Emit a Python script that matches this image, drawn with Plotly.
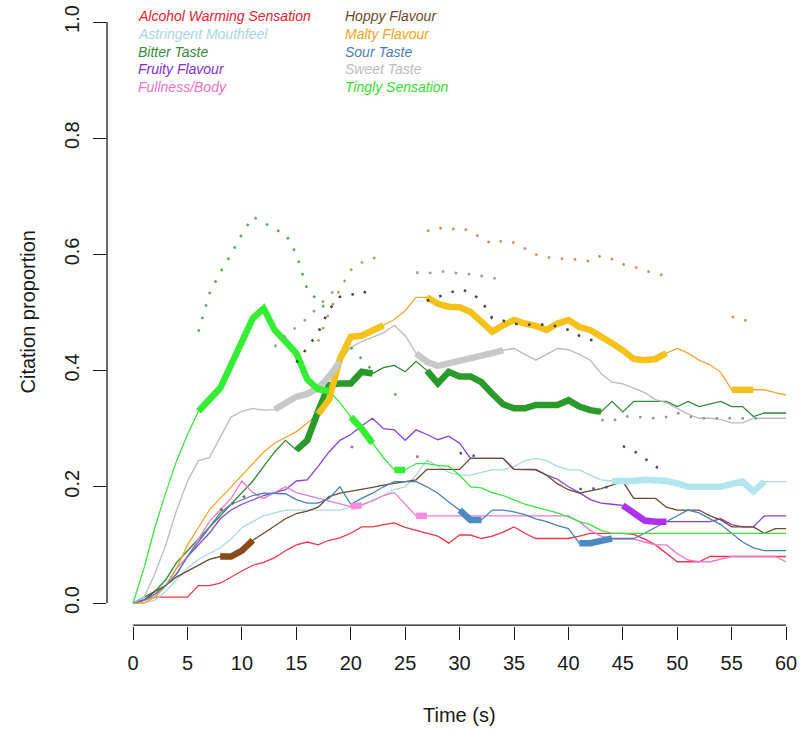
import plotly.graph_objects as go

# ---- data: citation proportion per second (0..60 s) ----
time_s = list(range(61))

alcohol_warming = [0, 0.005, 0.01, 0.01, 0.01, 0.01, 0.03, 0.03, 0.034, 0.045,
                   0.055, 0.065, 0.07, 0.078, 0.09, 0.10, 0.105, 0.10, 0.108, 0.112,
                   0.12, 0.131, 0.131, 0.135, 0.138, 0.13, 0.125, 0.12, 0.115, 0.103,
                   0.117, 0.117, 0.111, 0.115, 0.122, 0.131, 0.12, 0.111, 0.111, 0.111,
                   0.111, 0.115, 0.12, 0.12, 0.12, 0.12, 0.118, 0.11, 0.10, 0.085,
                   0.071, 0.071, 0.071, 0.08, 0.08, 0.08, 0.08, 0.08, 0.08, 0.08, 0.08]
astringent = [0, 0, 0.005, 0.02, 0.04, 0.06, 0.075, 0.085, 0.095, 0.11,
              0.13, 0.14, 0.15, 0.155, 0.16, 0.16, 0.16, 0.16, 0.16, 0.16,
              0.165, 0.17, 0.175, 0.185, 0.195, 0.20, 0.22, 0.246, 0.235, 0.225,
              0.22, 0.22, 0.225, 0.229, 0.229, 0.235, 0.245, 0.249, 0.245, 0.235,
              0.229, 0.229, 0.22, 0.212, 0.21, 0.209, 0.21, 0.212, 0.212, 0.21,
              0.206, 0.20, 0.20, 0.20, 0.20, 0.205, 0.209, 0.192, 0.209, 0.209, 0.209]
bitter = [0, 0.01, 0.02, 0.04, 0.07, 0.09, 0.11, 0.13, 0.15, 0.17,
          0.19, 0.21, 0.235, 0.26, 0.28, 0.263, 0.28, 0.33, 0.375, 0.378,
          0.378, 0.398, 0.395, 0.405, 0.409, 0.398, 0.416, 0.40, 0.378, 0.398,
          0.39, 0.39, 0.38, 0.36, 0.342, 0.335, 0.335, 0.341, 0.341, 0.341,
          0.349, 0.338, 0.332, 0.329, 0.347, 0.329, 0.347, 0.347, 0.347, 0.347,
          0.338, 0.347, 0.338, 0.343, 0.347, 0.338, 0.338, 0.321, 0.327, 0.327, 0.327]
fruity = [0, 0.005, 0.015, 0.03, 0.05, 0.08, 0.10, 0.12, 0.145, 0.16,
          0.17, 0.177, 0.185, 0.19, 0.195, 0.21, 0.212, 0.235, 0.26, 0.28,
          0.29, 0.305, 0.318, 0.30, 0.298, 0.28, 0.298, 0.29, 0.281, 0.287,
          0.275, 0.249, 0.249, 0.249, 0.249, 0.23, 0.23, 0.23, 0.22, 0.213,
          0.20, 0.19, 0.178, 0.172, 0.17, 0.168, 0.155, 0.142, 0.14, 0.14,
          0.14, 0.14, 0.14, 0.14, 0.145, 0.135, 0.131, 0.131, 0.15, 0.15, 0.15]
fullness = [0, 0.005, 0.01, 0.03, 0.06, 0.08, 0.11, 0.14, 0.16, 0.18,
            0.21, 0.19, 0.18, 0.19, 0.20, 0.19, 0.185, 0.18, 0.175, 0.17,
            0.166, 0.168, 0.177, 0.185, 0.19, 0.17, 0.15, 0.15, 0.15, 0.15,
            0.15, 0.15, 0.15, 0.15, 0.15, 0.15, 0.15, 0.15, 0.15, 0.15,
            0.15, 0.14, 0.125, 0.115, 0.11, 0.11, 0.11, 0.105, 0.10, 0.10,
            0.085, 0.074, 0.071, 0.071, 0.075, 0.08, 0.08, 0.08, 0.08, 0.08, 0.071]
hoppy = [0, 0.005, 0.02, 0.03, 0.045, 0.055, 0.065, 0.075, 0.08, 0.08,
         0.09, 0.108, 0.12, 0.132, 0.145, 0.154, 0.158, 0.165, 0.183, 0.189,
         0.192, 0.195, 0.199, 0.203, 0.206, 0.209, 0.212, 0.23, 0.23, 0.23,
         0.23, 0.249, 0.249, 0.249, 0.249, 0.23, 0.23, 0.229, 0.22, 0.205,
         0.195, 0.189, 0.193, 0.197, 0.203, 0.209, 0.18, 0.18, 0.18, 0.165,
         0.16, 0.16, 0.16, 0.15, 0.143, 0.131, 0.131, 0.131, 0.12, 0.128, 0.128]
malty = [0, 0, 0.01, 0.03, 0.06, 0.10, 0.13, 0.16, 0.18, 0.20,
         0.22, 0.24, 0.26, 0.275, 0.285, 0.295, 0.31, 0.325, 0.35, 0.42,
         0.458, 0.46, 0.47, 0.478, 0.488, 0.503, 0.526, 0.526, 0.515, 0.51,
         0.509, 0.501, 0.485, 0.467, 0.478, 0.487, 0.481, 0.477, 0.47, 0.481,
         0.487, 0.475, 0.47, 0.46, 0.447, 0.435, 0.42, 0.418, 0.42, 0.43,
         0.438, 0.43, 0.418, 0.41, 0.397, 0.367, 0.367, 0.367, 0.367, 0.362, 0.358]
sour = [0, 0.005, 0.015, 0.03, 0.05, 0.08, 0.105, 0.13, 0.155, 0.17,
        0.178, 0.185, 0.189, 0.189, 0.188, 0.178, 0.172, 0.172, 0.18, 0.20,
        0.17, 0.18, 0.189, 0.20, 0.209, 0.209, 0.209, 0.20, 0.189, 0.174,
        0.16, 0.143, 0.143, 0.16, 0.16, 0.157, 0.152, 0.145, 0.14, 0.133,
        0.128, 0.103, 0.103, 0.107, 0.111, 0.111, 0.111, 0.12, 0.13, 0.14,
        0.15, 0.16, 0.155, 0.145, 0.135, 0.12, 0.105, 0.095, 0.09, 0.09, 0.09]
sweet = [0, 0.01, 0.05, 0.10, 0.16, 0.21, 0.245, 0.25, 0.285, 0.32,
         0.33, 0.335, 0.332, 0.333, 0.345, 0.355, 0.36, 0.37, 0.39, 0.415,
         0.44, 0.45, 0.458, 0.465, 0.478, 0.46, 0.43, 0.415, 0.408, 0.412,
         0.418, 0.422, 0.425, 0.43, 0.435, 0.438, 0.428, 0.418, 0.428, 0.438,
         0.436, 0.428, 0.418, 0.395, 0.38, 0.377, 0.37, 0.362, 0.35, 0.345,
         0.335, 0.325, 0.318, 0.318, 0.316, 0.31, 0.31, 0.318, 0.318, 0.318, 0.318]
tingly = [0, 0.06, 0.13, 0.19, 0.245, 0.29, 0.33, 0.35, 0.37, 0.41,
          0.45, 0.49, 0.507, 0.47, 0.45, 0.43, 0.385, 0.368, 0.365, 0.345,
          0.32, 0.30, 0.275, 0.25, 0.229, 0.229, 0.24, 0.24, 0.237, 0.235,
          0.22, 0.20, 0.198, 0.19, 0.185, 0.178, 0.17, 0.165, 0.16, 0.155,
          0.148, 0.14, 0.135, 0.125, 0.12, 0.12, 0.12, 0.12, 0.12, 0.12,
          0.12, 0.12, 0.12, 0.12, 0.12, 0.12, 0.12, 0.12, 0.12, 0.12, 0.12]

# time windows (s) where the sample differs significantly -> thick line
alcohol_sig = []
astringent_sig = [(44, 58)]
bitter_sig = [(15, 22), (27, 43)]
fruity_sig = [(45, 49)]
fullness_sig = [(20, 21), (26, 27)]
hoppy_sig = [(8, 11)]
malty_sig = [(17, 23), (27, 49), (55, 57)]
sour_sig = [(30, 32), (41, 44)]
sweet_sig = [(13, 19), (26, 34)]
tingly_sig = [(6, 18), (20, 22), (24, 25)]

# comparison (other samples) proportions during significant windows -> dotted line
alcohol_ref = {}
astringent_ref = {43: 0.315, 44: 0.313, 45: 0.321, 46: 0.321, 47: 0.319, 48: 0.318,
                  49: 0.32, 50: 0.327, 51: 0.321, 52: 0.318, 53: 0.318, 54: 0.318,
                  55: 0.318, 56: 0.318, 57: 0.318, 58: 0.318}
bitter_ref = {15: 0.414, 16: 0.44, 17: 0.465, 18: 0.505, 19: 0.527, 20: 0.53, 21: 0.537,
              22: 0.53, 27: 0.52, 28: 0.527, 29: 0.533, 30: 0.54, 31: 0.535, 32: 0.52,
              33: 0.49, 34: 0.486, 35: 0.48, 36: 0.48, 37: 0.478, 38: 0.48, 39: 0.476,
              40: 0.47, 41: 0.46, 42: 0.453, 43: 0.45}
fruity_ref = {45: 0.27, 46: 0.262, 47: 0.249, 48: 0.235, 49: 0.225}
fullness_ref = {20: 0.269, 21: 0.265, 26: 0.252, 27: 0.25}
hoppy_ref = {8: 0.16, 9: 0.17, 10: 0.18, 11: 0.196}
malty_ref = {17: 0.45, 18: 0.50, 19: 0.54, 20: 0.573, 21: 0.586, 22: 0.593, 23: 0.598,
             27: 0.64, 28: 0.646, 29: 0.642, 30: 0.646, 31: 0.64, 32: 0.628, 33: 0.618,
             34: 0.624, 35: 0.62, 36: 0.61, 37: 0.60, 38: 0.595, 39: 0.593, 40: 0.592,
             41: 0.591, 42: 0.588, 43: 0.598, 44: 0.592, 45: 0.583, 46: 0.579, 47: 0.572,
             48: 0.567, 49: 0.563, 55: 0.493, 56: 0.487, 57: 0.485}
sour_ref = {30: 0.258, 31: 0.255, 32: 0.25, 41: 0.196, 42: 0.196, 43: 0.199, 44: 0.2}
sweet_ref = {13: 0.441, 14: 0.46, 15: 0.475, 16: 0.49, 17: 0.51, 18: 0.53, 19: 0.545,
             26: 0.569, 27: 0.567, 28: 0.571, 29: 0.57, 30: 0.567, 31: 0.566, 32: 0.563,
             33: 0.559, 34: 0.556}
tingly_ref = {6: 0.467, 7: 0.532, 8: 0.569, 9: 0.60, 10: 0.635, 11: 0.665, 12: 0.655,
              13: 0.643, 14: 0.636, 15: 0.60, 16: 0.54, 17: 0.52, 18: 0.50,
              20: 0.44, 21: 0.42, 22: 0.40, 24: 0.36, 25: 0.35}

# name, values, significant windows, comparison, thin colour, thick colour, dot colour
attributes = [
    ("Alcohol Warming Sensation", alcohol_warming, alcohol_sig, alcohol_ref, "#EE3848", "#EE3848", "#B03040"),
    ("Astringent Mouthfeel", astringent, astringent_sig, astringent_ref, "#A9D9E8", "#B2E5EF", "#8A9AA0"),
    ("Bitter Taste", bitter, bitter_sig, bitter_ref, "#2E8B30", "#2A9A2A", "#3A4A3A"),
    ("Fruity Flavour", fruity, fruity_sig, fruity_ref, "#8A3FD8", "#B030F0", "#50409A"),
    ("Fullness/Body", fullness, fullness_sig, fullness_ref, "#F07AC8", "#F68AE0", "#C0609A"),
    ("Hoppy Flavour", hoppy, hoppy_sig, hoppy_ref, "#6E4A2E", "#8B4A1E", "#806040"),
    ("Malty Flavour", malty, malty_sig, malty_ref, "#F5A632", "#F4C21A", "#C8925A"),
    ("Sour Taste", sour, sour_sig, sour_ref, "#4A80B8", "#4C8AC2", "#3E5E86"),
    ("Sweet Taste", sweet, sweet_sig, sweet_ref, "#BBBBBB", "#C8C8C8", "#9A9A9A"),
    ("Tingly Sensation", tingly, tingly_sig, tingly_ref, "#3CE63C", "#33EE33", "#4FAE4F"),
]

legend_colours = {
    "Alcohol Warming Sensation": "#E8222E",
    "Astringent Mouthfeel": "#A6D6E6",
    "Bitter Taste": "#3A8A3A",
    "Fruity Flavour": "#8A2BE2",
    "Fullness/Body": "#F072C4",
    "Hoppy Flavour": "#6B4A2B",
    "Malty Flavour": "#F5A425",
    "Sour Taste": "#4A7FB5",
    "Sweet Taste": "#BDBDBD",
    "Tingly Sensation": "#33DD33",
}

for _, vals, *_ in attributes:
    assert len(vals) == len(time_s)


def masked(vals, windows):
    out = []
    for t, v in zip(time_s, vals):
        out.append(v if any(a <= t <= b for a, b in windows) else None)
    return out


def ref_series(ref):
    return [ref.get(t) for t in time_s]


fig = go.Figure()

# thin lines
for name, vals, sig, ref, c_thin, c_thick, c_dot in attributes:
    fig.add_trace(go.Scatter(x=time_s, y=vals, mode="lines", name=name,
                             line=dict(color=c_thin, width=1.3), showlegend=False,
                             hoverinfo="skip"))
# thick significant segments
for name, vals, sig, ref, c_thin, c_thick, c_dot in attributes:
    if sig:
        fig.add_trace(go.Scatter(x=time_s, y=masked(vals, sig), mode="lines",
                                 line=dict(color=c_thick, width=6.5),
                                 connectgaps=False, showlegend=False, hoverinfo="skip"))
# dotted comparison lines
for name, vals, sig, ref, c_thin, c_thick, c_dot in attributes:
    if ref:
        fig.add_trace(go.Scatter(x=time_s, y=ref_series(ref), mode="lines",
                                 line=dict(color=c_dot, width=2.5, dash="2.5px,10.5px"),
                                 connectgaps=False, showlegend=False, hoverinfo="skip"))

W, H = 801, 733
ML, MB = 107, 107
plot_h = H - MB

def py(ypx):
    # pixel row -> paper fraction for plot area starting at top edge
    return 1 - ypx / plot_h

def px(xpx):
    return (xpx - ML) / (W - ML)

font_family = "Liberation Sans, Arial, Helvetica, sans-serif"

# text legend in two columns
legend_cols = [136, 343]
legend_rows = [16, 33.8, 51.6, 69.4, 87.2]
names = [a[0] for a in attributes]
annotations = []
for i, name in enumerate(names):
    col, row = divmod(i, 5)
    annotations.append(dict(
        x=px(legend_cols[col]), y=py(legend_rows[row]), xref="paper", yref="paper",
        text="<i>" + name + "</i>", showarrow=False, xanchor="left", yanchor="middle",
        font=dict(family=font_family, size=14, color=legend_colours[name])))

annotations.append(dict(x=30, y=py(715), xref="x", yref="paper", text="Time (s)",
                        showarrow=False, xanchor="center", yanchor="middle",
                        font=dict(family=font_family, size=20, color="#1a1a1a")))
annotations.append(dict(x=px(27), y=0.5, xref="paper", yref="y", text="Citation proportion",
                        showarrow=False, xanchor="center", yanchor="middle", textangle=-90,
                        font=dict(family=font_family, size=20, color="#1a1a1a")))

shapes = [
    dict(type="line", xref="x", yref="paper", x0=0, x1=60, y0=0.0015, y1=0.0015,
         line=dict(color="#1a1a1a", width=1.3)),
    dict(type="line", xref="paper", yref="y", x0=0.0, x1=0.0, y0=0, y1=1,
         line=dict(color="#1a1a1a", width=1.3)),
]

y_top = 603 / 581
y_bot = -(plot_h - 603) / 581

fig.update_layout(
    width=W, height=H,
    margin=dict(l=ML, r=0, t=0, b=MB, pad=0),
    paper_bgcolor="white", plot_bgcolor="white",
    font=dict(family=font_family, color="#1a1a1a"),
    xaxis=dict(range=[-2.4, -2.4 + (W - ML) / 10.883], tickvals=list(range(0, 61, 5)),
               ticks="outside", ticklen=13, tickwidth=1.3, tickcolor="#1a1a1a",
               showgrid=False, zeroline=False, showline=False,
               tickfont=dict(size=20, family=font_family, color="#1a1a1a"),
               ticklabelstandoff=6),
    yaxis=dict(range=[y_bot, y_top], tickvals=[0, 0.2, 0.4, 0.6, 0.8, 1.0],
               ticktext=["0.0", "0.2", "0.4", "0.6", "0.8", "1.0"], tickangle=-90,
               ticks="outside", ticklen=13, tickwidth=1.3, tickcolor="#1a1a1a",
               showgrid=False, zeroline=False, showline=False,
               tickfont=dict(size=20, family=font_family, color="#1a1a1a"),
               ticklabelstandoff=6),
    annotations=annotations,
    shapes=shapes,
    showlegend=False,
)

fig.write_html("out.html")
